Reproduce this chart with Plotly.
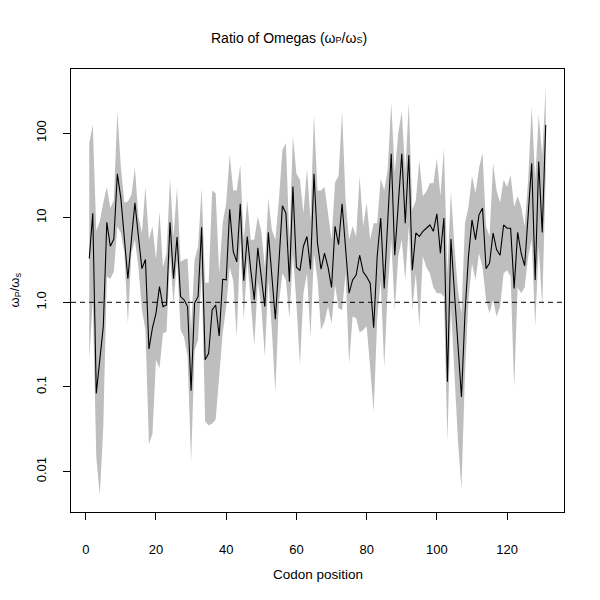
import plotly.graph_objects as go

codon = list(range(1, 132))

ratio = [3.3, 11.3, 0.084, 0.21, 0.52, 8.8, 4.6, 5.6, 33, 17,
         5.5, 1.9, 5.5, 15, 6.0, 2.5, 3.2, 0.28, 0.5, 0.74,
         1.53, 0.89, 0.93, 8.8, 1.9, 5.9, 1.17, 1.07, 0.89, 0.09,
         0.98, 1.17, 7.7, 0.21, 0.25, 0.81, 0.93, 0.4, 1.87, 1.84,
         12.6, 4.0, 3.0, 14.6, 1.8, 6.0, 2.4, 1.07, 4.4, 2.0,
         0.89, 6.7, 2.2, 0.63, 2.9, 13.8, 11.3, 1.75, 23.4, 2.6,
         2.37, 4.6, 6.0, 2.46, 33, 5.0, 2.46, 3.8, 2.6, 1.5,
         7.9, 4.8, 14.6, 4.5, 1.28, 1.84, 2.1, 3.6, 2.3, 2.0,
         1.68, 0.5, 3.5, 9.9, 1.46, 9, 57, 3.6, 15, 57,
         8.6, 55, 2.4, 6.6, 6.0, 6.9, 7.5, 8.2, 6.9, 11.1,
         3.8, 9.9, 0.115, 5.6, 1.3, 0.33, 0.076, 0.74, 3.5, 9.4,
         5.5, 10.8, 13, 2.5, 2.9, 6.6, 4.2, 3.6, 8.2, 7.5,
         7.5, 1.46, 6.7, 3.8, 2.7, 10.8, 44, 1.84, 46, 6.7,
         125]

upper = [76, 125, 7, 9, 15, 23, 13, 16, 180, 40,
         15, 15.5, 18.6, 39, 10.3, 6.6, 23, 5.5, 7.9, 3.2,
         11.8, 2.6, 3.8, 29, 6.0, 23, 3.0, 3.2, 3.3, 0.47,
         3.2, 4.6, 22, 1.7, 1.7, 21, 19.5, 2.2, 8.6, 15,
         55, 21, 21, 42, 5.5, 16, 5.5, 5.5, 10.3, 6.9,
         2.6, 17, 7.2, 5.5, 16, 63, 76, 5.5, 92, 33,
         28, 11.3, 38, 9.4, 165, 21, 21, 23, 11.3, 5.5,
         26, 31, 180, 16, 5.5, 7.9, 6.0, 31, 7.9, 15,
         5.5, 8.6, 8.6, 29, 21, 37, 227, 34, 100, 180,
         34, 227, 12.4, 16, 48, 18, 20.4, 25.6, 25.6, 50,
         18, 66, 2.2, 20.4, 4.6, 1.4, 0.74, 8.6, 13.5, 31,
         19.5, 38.6, 58, 7.9, 6.0, 44, 21, 15, 28, 23,
         32, 13.5, 18, 13.5, 7.9, 28, 207, 28, 165, 53,
         358]

lower = [0.21, 1.07, 0.015, 0.0052, 0.034, 2.0, 1.9, 2.3, 7.9, 6.6,
         3.8, 0.56, 3.8, 5.5, 2.6, 0.81, 0.47, 0.021, 0.028, 0.21,
         0.166, 0.43, 0.45, 3.5, 0.97, 3.2, 0.47, 0.39, 0.23, 0.013,
         0.27, 0.36, 2.2, 0.039, 0.035, 0.037, 0.041, 0.145, 0.43, 0.89,
         2.6, 1.8, 0.39, 5.5, 0.62, 3.2, 1.07, 0.31, 1.75, 0.89,
         0.23, 1.84, 0.47, 0.088, 0.97, 2.2, 1.84, 0.65, 3.8, 0.97,
         0.18, 1.28, 2.2, 0.39, 3.8, 1.84, 0.47, 0.59, 0.89, 0.56,
         1.6, 0.85, 0.81, 2.2, 0.19, 0.68, 0.65, 0.44, 0.47, 0.52,
         0.17, 0.051, 0.62, 1.84, 0.17, 1.4, 5.5, 0.81, 3.5, 5.5,
         1.84, 7.9, 0.81, 2.2, 0.52, 3.5, 2.6, 2.2, 1.5, 1.28,
         1.28, 1.17, 0.023, 0.89, 0.145, 0.023, 0.0063, 0.145, 1.07, 2.9,
         1.84, 3.8, 2.6, 1.07, 0.74, 1.07, 0.68, 0.89, 2.2, 2.4,
         2.0, 0.1, 1.5, 1.28, 1.5, 3.5, 5.5, 0.52, 4.6, 0.89,
         33]

x_ticks = [0, 20, 40, 60, 80, 100, 120]
y_ticks = [0.01, 0.1, 1, 10, 100]
y_tick_labels = ["0.01", "0.1", "1.0", "10", "100"]

FONT = "Liberation Sans, Arial, Helvetica, sans-serif"

fig = go.Figure()

fig.add_trace(go.Scatter(
    x=codon + codon[::-1],
    y=lower + upper[::-1],
    fill="toself",
    fillcolor="#bebebe",
    line=dict(width=0, color="#bebebe"),
    mode="lines",
    hoverinfo="skip",
    showlegend=False,
))

fig.add_trace(go.Scatter(
    x=codon, y=ratio, mode="lines",
    line=dict(color="black", width=1.1),
    showlegend=False,
))

fig.add_shape(type="line", xref="paper", x0=0, x1=1, yref="y", y0=1, y1=1,
              line=dict(color="black", width=1, dash="5px,4px"), layer="above")

fig.update_layout(
    width=600, height=600,
    margin=dict(l=63, r=44, t=61, b=96),
    paper_bgcolor="white", plot_bgcolor="white",
    font=dict(family=FONT, size=13, color="black"),
    showlegend=False,
    xaxis=dict(
        range=[-4.2, 136.2], tickvals=x_ticks, ticks="outside", ticklen=7,
        tickwidth=1, tickcolor="black", showline=True, linecolor="black",
        linewidth=1, mirror=True, showgrid=False, zeroline=False,
        tickfont=dict(size=13), ticklabelstandoff=18,
    ),
    yaxis=dict(
        type="log", range=[-2.478, 2.757], tickvals=y_ticks,
        ticktext=y_tick_labels, ticks="outside", ticklen=7, tickwidth=1,
        tickcolor="black", showline=True, linecolor="black", linewidth=1,
        mirror=True, showgrid=False, zeroline=False, tickangle=-90,
        tickfont=dict(size=13), ticklabelstandoff=12,
    ),
    annotations=[
        dict(text="Ratio of Omegas (ω<span style='font-size:9px'>P</span>/ω<span style='font-size:9px'>S</span>)",
             xref="paper", yref="paper", x=(289 - 71) / 493, y=1 + (69 - 38) / 443,
             xanchor="center", yanchor="middle", showarrow=False,
             font=dict(size=14)),
        dict(text="Codon position", xref="paper", yref="paper",
             x=(317.5 - 71) / 493, y=-(574 - 512) / 443,
             xanchor="center", yanchor="middle", showarrow=False,
             font=dict(size=13.5)),
        dict(text="ω<sub>P</sub>/ω<sub>s</sub>", xref="paper", yref="paper",
             x=-(71 - 15) / 493, y=0.5, textangle=-90,
             xanchor="center", yanchor="middle", showarrow=False,
             font=dict(size=13)),
    ],
)

fig.write_html("out.html")
